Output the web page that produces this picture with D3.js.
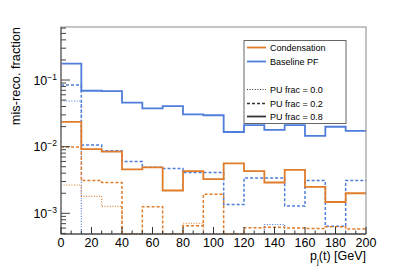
<!DOCTYPE html>
<html>
<head>
<meta charset="utf-8">
<title>mis-reco</title>
<style>
    body { margin: 0; background: #fff; }
    svg { font-family: "Liberation Sans", Arial, sans-serif; }
    .tick-lbl { font-size: 12.5px; fill: #000; }
    .leg text { font-size: 9px; fill: #000; }
</style>
</head>
<body>
<svg id="chart" width="407" height="276"></svg>
<script src="https://d3js.org/d3.v7.min.js"></script>
<script>
// bin edges of the pT histogram, 15 bins over 0..200 GeV
var edges = d3.range(16).map(function(i) { return i * 200 / 15; });

// Baseline PF
var pfPU00 = [0.0484, 0, 0, 0, 0, 0, 0, 0, 0, 0, 0.00068, 0, 0, 0, 0];
var pfPU02 = [0.084, 0.0106, 0.0087, 0.0060, 0.0049, 0.0047, 0.0041, 0.0041, 0.00136, 0.0034, 0.0034, 0.00129, 0.0031, 0.00064, 0.0031];
var pfPU08 = [0.176, 0.069, 0.068, 0.0457, 0.0376, 0.0407, 0.0306, 0.0296, 0.0166, 0.0211, 0.0178, 0.0211, 0.0145, 0.0199, 0.0173];

// Condensation
var cdPU00 = [0.00266, 0.0018, 0.00127, 0, 0, 0, 0.00071, 0, 0, 0, 0, 0, 0, 0, 0];
var cdPU02 = [0.0099, 0.0031, 0.0029, 0, 0.00126, 0, 0.00065, 0.00193, 0, 0.00061, 0.00062, 0.0006, 0.00059, 0.00063, 0.00058];
var cdPU08 = [0.0235, 0.0092, 0.0084, 0.00457, 0.0049, 0.0022, 0.0043, 0.00327, 0.0056, 0.0043, 0.0029, 0.0045, 0.0025, 0.00148, 0.0020];

var xTicks = [0, 20, 40, 60, 80, 100, 120, 140, 160, 180, 200];
var yDecades = [-3, -2, -1];

var blue = "#4f7ddb", orange = "#e07c2a";
var styles = {
    "0.0": { dash: "1,1.6", w: 1.2 },
    "0.2": { dash: "3,2", w: 1.5 },
    "0.8": { dash: null, w: 1.8 }
};

var m = { left: 61, right: 366, top: 27, bottom: 234 };
var svg = d3.select("#chart");

var x = d3.scaleLinear().domain([0, 200]).range([m.left, m.right]);
var y = d3.scaleLog().domain([Math.pow(10, -3.31), Math.pow(10, -0.205)]).range([m.bottom, m.top]);

function yc(v) {
    if (v <= 0) return m.bottom;
    return Math.max(m.top, Math.min(m.bottom, y(v)));
}

var line = d3.line().x(function(d) { return d[0]; }).y(function(d) { return d[1]; });

function drawHist(vals, color, st) {
    var pts = [];
    vals.forEach(function(v, i) {
        pts.push([x(edges[i]), yc(v)]);
        pts.push([x(edges[i + 1]), yc(v)]);
    });
    svg.append("path")
        .attr("d", line(pts))
        .attr("fill", "none")
        .attr("stroke", color)
        .attr("stroke-width", st.w)
        .attr("stroke-dasharray", st.dash);
}

drawHist(pfPU08, blue, styles["0.8"]);
drawHist(pfPU02, blue, styles["0.2"]);
drawHist(pfPU00, blue, styles["0.0"]);
drawHist(cdPU08, orange, styles["0.8"]);
drawHist(cdPU02, orange, styles["0.2"]);
drawHist(cdPU00, orange, styles["0.0"]);

// frame
svg.append("rect")
    .attr("x", m.left).attr("y", m.top)
    .attr("width", m.right - m.left).attr("height", m.bottom - m.top)
    .attr("fill", "none").attr("stroke", "#888").attr("stroke-width", 1);
svg.append("line")
    .attr("x1", m.left).attr("x2", m.left).attr("y1", m.top).attr("y2", m.bottom)
    .attr("stroke", "#777").attr("stroke-width", 1.5);
svg.append("line")
    .attr("x1", m.left).attr("x2", m.right).attr("y1", m.bottom).attr("y2", m.bottom)
    .attr("stroke", "#333").attr("stroke-width", 1);

// x ticks (major every 20, minor thirds)
var minorX = d3.range(0, 31).map(function(i) { return i * 20 / 3; });
minorX.forEach(function(t) {
    var major = Math.abs(t / 20 - Math.round(t / 20)) < 1e-6;
    svg.append("line")
        .attr("x1", x(t)).attr("x2", x(t))
        .attr("y1", m.bottom).attr("y2", m.bottom - (major ? 7 : 3.5))
        .attr("stroke", "#333").attr("stroke-width", 1);
});
xTicks.forEach(function(t) {
    svg.append("text").attr("class", "tick-lbl")
        .attr("x", x(t)).attr("y", 247)
        .attr("text-anchor", "middle")
        .text(t);
});

// y ticks
var yMin = y.domain()[0], yMax = y.domain()[1];
for (var e = -4; e <= 0; e++) {
    for (var k = 1; k <= 9; k++) {
        var v = k * Math.pow(10, e);
        if (v < yMin || v > yMax) continue;
        svg.append("line")
            .attr("x1", m.left).attr("x2", m.left + (k === 1 ? 9 : 5))
            .attr("y1", y(v)).attr("y2", y(v))
            .attr("stroke", "#444").attr("stroke-width", 1);
    }
}
yDecades.forEach(function(d) {
    var t = svg.append("text").attr("class", "tick-lbl")
        .attr("x", 57).attr("y", y(Math.pow(10, d)) + 4.5)
        .attr("text-anchor", "end");
    t.append("tspan").text("10");
    t.append("tspan").attr("dy", -5).style("font-size", "8.5px").text("\u2212" + (-d));
});

// axis titles
svg.append("text")
    .attr("transform", "translate(20," + m.top + ") rotate(-90)")
    .attr("text-anchor", "end")
    .style("font-size", "12.8px")
    .text("mis-reco. fraction");

var xt = svg.append("text")
    .attr("x", m.right).attr("y", 260)
    .attr("text-anchor", "end")
    .style("font-size", "12.5px");
xt.append("tspan").text("p");
xt.append("tspan").attr("dy", 4).style("font-size", "8px").text("j");
xt.append("tspan").attr("dy", -4).text("(t) [GeV]");

// legend
var leg = svg.append("g").attr("class", "leg");
leg.append("rect")
    .attr("x", 244).attr("y", 40.5).attr("width", 102).attr("height", 83)
    .attr("fill", "#fff").attr("stroke", "#666").attr("stroke-width", 1);
var legItems = [
    { label: "Condensation", color: orange, st: styles["0.8"], y: 47.5 },
    { label: "Baseline PF", color: blue, st: styles["0.8"], y: 61.5 },
    { label: "PU frac = 0.0", color: "#333", st: styles["0.0"], y: 89.5 },
    { label: "PU frac = 0.2", color: "#333", st: styles["0.2"], y: 103.5 },
    { label: "PU frac = 0.8", color: "#333", st: styles["0.8"], y: 116.5 }
];
legItems.forEach(function(it) {
    leg.append("line")
        .attr("x1", 247).attr("x2", 266).attr("y1", it.y).attr("y2", it.y)
        .attr("stroke", it.color).attr("stroke-width", it.st.w)
        .attr("stroke-dasharray", it.st.dash);
    leg.append("text").attr("x", 270).attr("y", it.y + 3.2).text(it.label);
});
</script>
</body>
</html>
